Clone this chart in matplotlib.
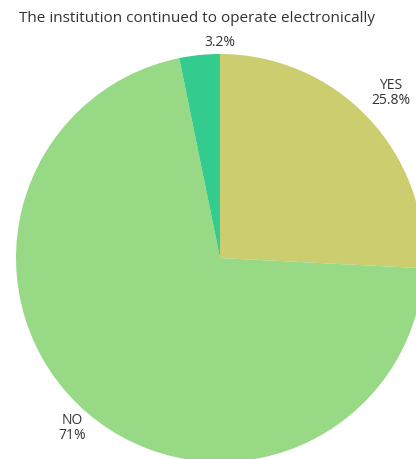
import matplotlib.pyplot as plt

labels = ['YES', 'NO', '']
shares = [25.8, 71.0, 3.2]
colors = ['#cccd6e', '#97d985', '#33cc8e']

title = 'The institution continued to operate electronically'

W, H = 416, 459
fig = plt.figure(figsize=(W / 100, H / 100), dpi=100)
ax = fig.add_axes([0, 0, 1, 1])

ax.pie(shares, colors=colors, startangle=90, counterclock=False,
       center=(220, H - 258), radius=204,
       wedgeprops={'linewidth': 0})

ax.set_xlim(0, W)
ax.set_ylim(0, H)
ax.set_aspect('equal')
ax.axis('off')

txt = dict(color='#333333', fontsize=10, family='Open Sans', ha='center', va='center',
           linespacing=1.0)
ax.text(197, H - 19, title, color='#333333', fontsize=11, family='Open Sans',
        ha='center', va='center')
ax.text(220, H - 42, f'{shares[2]:g}%', **txt)
ax.text(391, H - 93, f'{labels[0]}\n{shares[0]:g}%', **txt)
ax.text(72, H - 428, f'{labels[1]}\n{shares[1]:g}%', **txt)

fig.savefig('out.png', dpi=100)
